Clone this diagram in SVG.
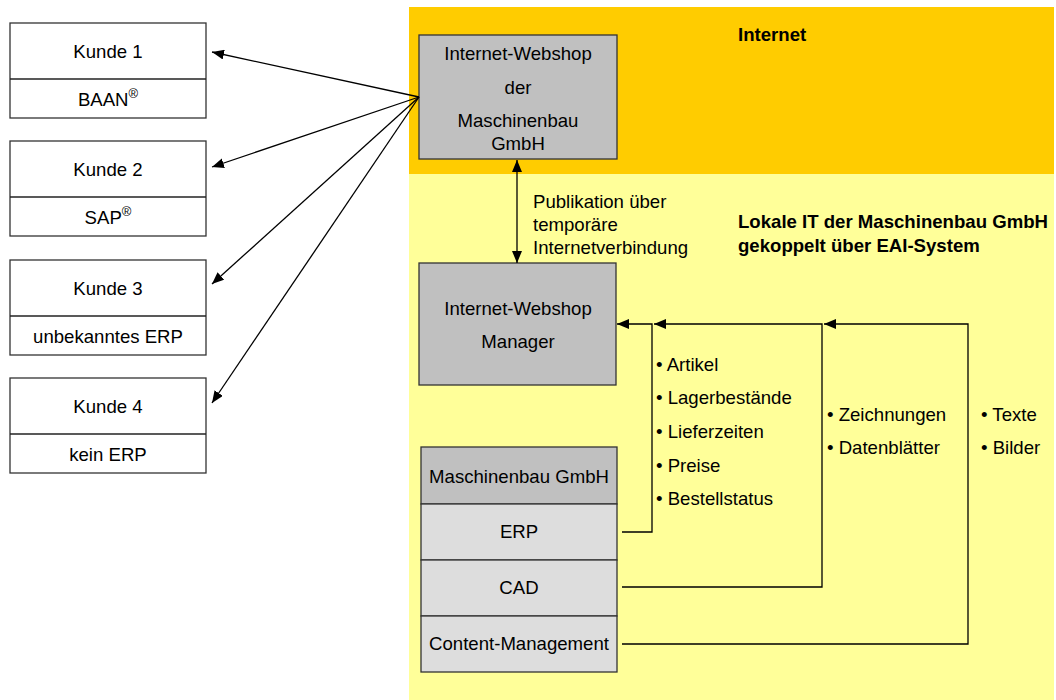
<svg xmlns="http://www.w3.org/2000/svg" width="1056" height="700" viewBox="0 0 1056 700">
  <defs>
    <marker id="head" markerUnits="userSpaceOnUse" markerWidth="12" markerHeight="10" viewBox="0 0 12 10" refX="12" refY="5" orient="auto-start-reverse">
      <path d="M0,0 L12,5 L0,10 z" fill="#000"/>
    </marker>
    <style>
      text { font-family: "Liberation Sans", Arial, sans-serif; font-size: 18.6px; fill: #000; }
      .c { text-anchor: middle; }
      .b { font-weight: bold; }
      .box { fill: #fff; stroke: #333; stroke-width: 1.3; }
      .gray { fill: #C0C0C0; stroke: #333; stroke-width: 1.3; }
      .light { fill: #DDDDDD; stroke: #333; stroke-width: 1.3; }
      .sep { stroke: #222; stroke-width: 1.3; }
      .conn { fill: none; stroke: #000; stroke-width: 1.3; }
      .sup { font-size: 13px; }
    </style>
  </defs>

  <!-- zones -->
  <g id="zones">
    <rect x="409" y="7" width="645" height="167" fill="#FFCC00"/>
    <rect x="409" y="174" width="645" height="526" fill="#FFFF99"/>
    <text class="b" x="738" y="41">Internet</text>
    <text class="b" x="738" y="228">Lokale IT der Maschinenbau GmbH</text>
    <text class="b" x="738" y="252">gekoppelt über EAI-System</text>
  </g>

  <!-- customers -->
  <g id="kunde1">
    <rect class="box" x="10" y="23" width="196" height="95"/>
    <line class="sep" x1="10" y1="79" x2="206" y2="79"/>
    <text class="c" x="108" y="58">Kunde 1</text>
    <text class="c" x="108" y="106">BAAN<tspan class="sup" dy="-8">®</tspan></text>
  </g>
  <g id="kunde2">
    <rect class="box" x="10" y="141" width="196" height="95"/>
    <line class="sep" x1="10" y1="197" x2="206" y2="197"/>
    <text class="c" x="108" y="176">Kunde 2</text>
    <text class="c" x="108" y="224">SAP<tspan class="sup" dy="-8">®</tspan></text>
  </g>
  <g id="kunde3">
    <rect class="box" x="10" y="260" width="196" height="95"/>
    <line class="sep" x1="10" y1="316" x2="206" y2="316"/>
    <text class="c" x="108" y="295">Kunde 3</text>
    <text class="c" x="108" y="343">unbekanntes ERP</text>
  </g>
  <g id="kunde4">
    <rect class="box" x="10" y="378" width="196" height="95"/>
    <line class="sep" x1="10" y1="434" x2="206" y2="434"/>
    <text class="c" x="108" y="413">Kunde 4</text>
    <text class="c" x="108" y="461">kein ERP</text>
  </g>

  <!-- web shop -->
  <g id="webshop">
    <rect class="gray" x="419" y="35" width="198" height="124"/>
    <text class="c" x="518" y="60">Internet-Webshop</text>
    <text class="c" x="518" y="94">der</text>
    <text class="c" x="518" y="127">Maschinenbau</text>
    <text class="c" x="518" y="150">GmbH</text>
  </g>

  <!-- web shop manager -->
  <g id="manager">
    <rect class="gray" x="419" y="263" width="197" height="122"/>
    <text class="c" x="518" y="315">Internet-Webshop</text>
    <text class="c" x="518" y="348">Manager</text>
  </g>

  <!-- company systems -->
  <g id="systems">
    <rect class="gray" x="421" y="447" width="196" height="57"/>
    <rect class="light" x="421" y="504" width="196" height="56"/>
    <rect class="light" x="421" y="560" width="196" height="56"/>
    <rect class="light" x="421" y="616" width="196" height="56"/>
    <text class="c" x="519" y="483">Maschinenbau GmbH</text>
    <text class="c" x="519" y="538">ERP</text>
    <text class="c" x="519" y="594">CAD</text>
    <text class="c" x="519" y="650">Content-Management</text>
  </g>

  <!-- data labels -->
  <g id="labels">
    <text x="533" y="208">Publikation über</text>
    <text x="533" y="231">temporäre</text>
    <text x="533" y="254">Internetverbindung</text>
    <text x="656" y="371">• Artikel</text>
    <text x="656" y="404">• Lagerbestände</text>
    <text x="656" y="438">• Lieferzeiten</text>
    <text x="656" y="472">• Preise</text>
    <text x="656" y="505">• Bestellstatus</text>
    <text x="827" y="421">• Zeichnungen</text>
    <text x="827" y="454">• Datenblätter</text>
    <text x="981" y="421">• Texte</text>
    <text x="981" y="454">• Bilder</text>
  </g>

  <!-- connectors -->
  <g id="connectors">
    <line class="conn" x1="419" y1="97" x2="212" y2="52" marker-end="url(#head)"/>
    <line class="conn" x1="419" y1="97" x2="212" y2="167" marker-end="url(#head)"/>
    <line class="conn" x1="419" y1="97" x2="212" y2="284" marker-end="url(#head)"/>
    <line class="conn" x1="419" y1="97" x2="212" y2="403" marker-end="url(#head)"/>
    <line class="conn" x1="517" y1="160" x2="517" y2="263" marker-start="url(#head)" marker-end="url(#head)"/>
    <polyline class="conn" points="622,532 652,532 652,324 617,324" marker-end="url(#head)"/>
    <polyline class="conn" points="622,587 822,587 822,324 654,324" marker-end="url(#head)"/>
    <polyline class="conn" points="622,644 968,644 968,324 824,324" marker-end="url(#head)"/>
  </g>
</svg>
